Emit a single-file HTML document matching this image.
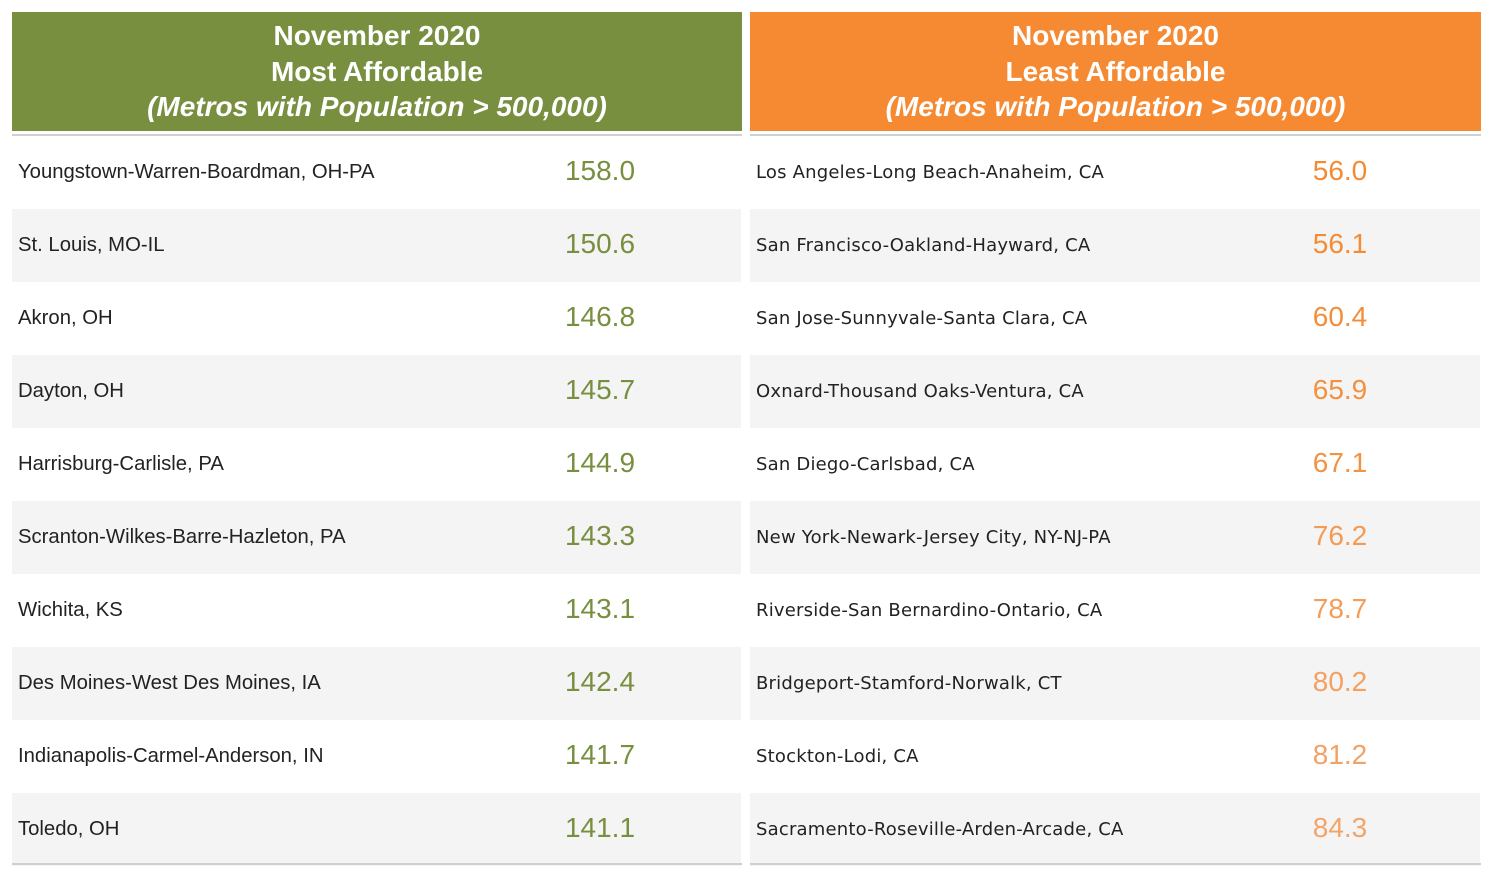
<!DOCTYPE html>
<html><head><style>
body{margin:0;width:1493px;height:878px;background:#fff;position:relative;font-family:"Liberation Sans",sans-serif;overflow:hidden}
.hd{position:absolute;top:12px;height:119px;color:#fff;font-weight:bold;text-align:center;font-size:28px;line-height:35.5px;padding-top:6px;box-sizing:border-box}
.hd i{font-style:italic}
.ln{position:absolute;top:134px;height:2px;background:#d0d0d0}
.row{position:absolute;height:73px}
.nm{position:absolute;left:6px;top:0;line-height:73px;font-size:20.3px;color:#222}
.v{position:absolute;top:-1px;line-height:71px;font-size:28px;width:120px;text-align:center}
.r .nm{font-family:"DejaVu Sans",sans-serif;font-size:18px;letter-spacing:0.2px}
</style></head><body>
<div class="hd" style="left:12px;width:730px;background:#778f3f">November 2020<br>Most Affordable<br><i>(Metros with Population &gt; 500,000)</i></div>
<div class="hd" style="left:750px;width:731px;background:#f58a32">November 2020<br>Least Affordable<br><i>(Metros with Population &gt; 500,000)</i></div>
<div class="ln" style="left:12px;width:730px"></div>
<div class="ln" style="left:750px;width:731px"></div>
<div id="c"></div>
<div class="ln" style="top:863px;left:12px;width:730px"></div>
<div class="ln" style="top:863px;left:750px;width:731px"></div>
<script>
var L=[["Youngstown-Warren-Boardman, OH-PA","158.0"],["St. Louis, MO-IL","150.6"],["Akron, OH","146.8"],["Dayton, OH","145.7"],["Harrisburg-Carlisle, PA","144.9"],["Scranton-Wilkes-Barre-Hazleton, PA","143.3"],["Wichita, KS","143.1"],["Des Moines-West Des Moines, IA","142.4"],["Indianapolis-Carmel-Anderson, IN","141.7"],["Toledo, OH","141.1"]];
var R=[["Los Angeles-Long Beach-Anaheim, CA","56.0"],["San Francisco-Oakland-Hayward, CA","56.1"],["San Jose-Sunnyvale-Santa Clara, CA","60.4"],["Oxnard-Thousand Oaks-Ventura, CA","65.9"],["San Diego-Carlsbad, CA","67.1"],["New York-Newark-Jersey City, NY-NJ-PA","76.2"],["Riverside-San Bernardino-Ontario, CA","78.7"],["Bridgeport-Stamford-Norwalk, CT","80.2"],["Stockton-Lodi, CA","81.2"],["Sacramento-Roseville-Arden-Arcade, CA","84.3"]];
var rc=["#f58a32","#f58b34","#f48d39","#f4903e","#f49243","#f39a55","#f39d5b","#f3a060","#f2a264","#f2a56a"];
var h="";
for(var i=0;i<10;i++){var t=136+73*i,bg=i%2?"#f4f4f4":"#fff";
h+='<div class="row" style="left:12px;width:729px;top:'+t+'px;background:'+bg+'"><div class="nm">'+L[i][0]+'</div><div class="v" style="left:528px;color:#778f3f">'+L[i][1]+'</div></div>';
h+='<div class="row r" style="left:750px;width:730px;top:'+t+'px;background:'+bg+'"><div class="nm">'+R[i][0]+'</div><div class="v" style="left:530px;color:'+rc[i]+'">'+R[i][1]+'</div></div>';}
document.getElementById("c").innerHTML=h;
</script>
</body></html>
